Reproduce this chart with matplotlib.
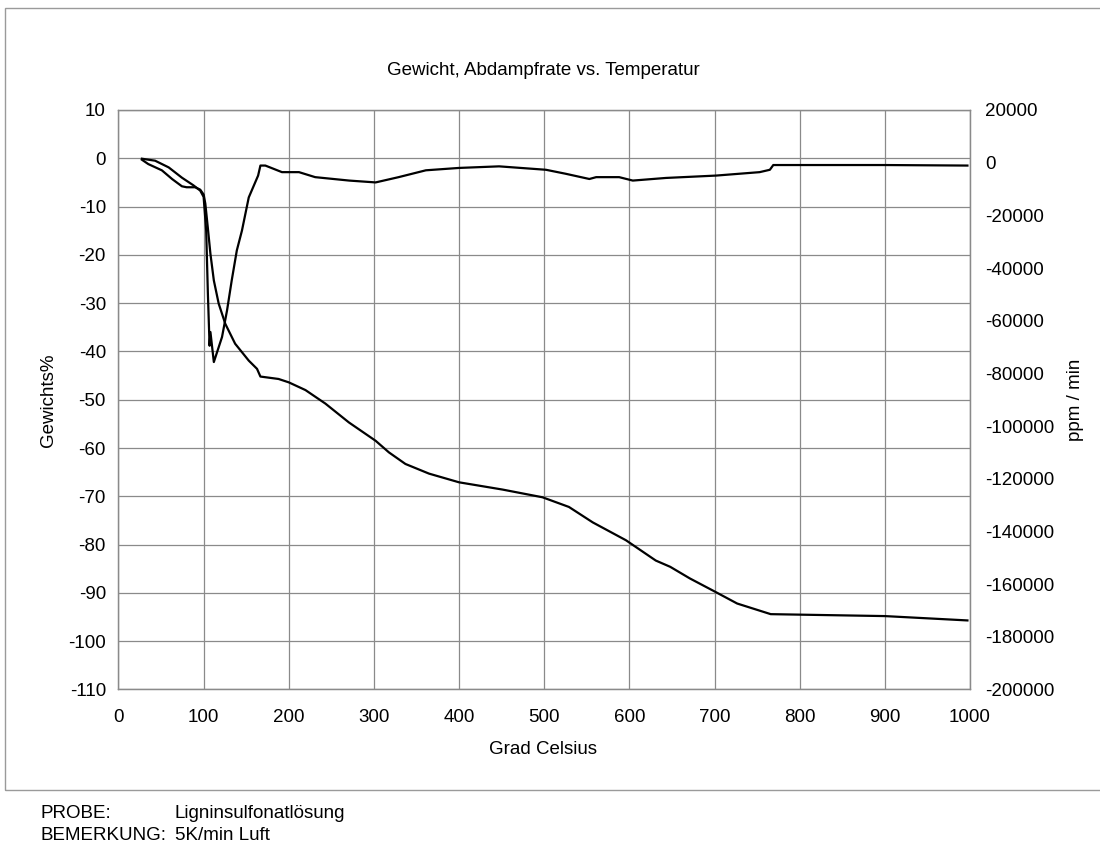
import matplotlib
matplotlib.use("Agg")
import matplotlib.pyplot as plt
from matplotlib.patches import Rectangle

plt.rcParams['font.family'] = ['Liberation Sans', 'DejaVu Sans']
plt.rcParams['axes.unicode_minus'] = False

# Gewichtskurve (linke Achse, %)
temp_weight = [27.5, 35, 51, 63, 74.5, 80, 90, 96, 100, 102, 105, 108, 112, 117.7,
               125.5, 137, 153, 162.7, 166.7, 188, 200, 219.6, 243, 270.6, 302,
               317.6, 337, 364.7, 400, 451, 498, 529, 557, 596, 631, 648, 671,
               699, 726.6, 766, 900, 997]
weight = [-0.3, -1.2, -2.5, -4.3, -5.8, -6.0, -6.0, -6.5, -7.5, -9.4, -14.5, -19.8,
          -25.3, -30.1, -34.3, -38.4, -41.9, -43.6, -45.2, -45.7, -46.4, -48.0,
          -50.8, -54.7, -58.5, -60.9, -63.3, -65.3, -67.1, -68.6, -70.2, -72.2,
          -75.4, -79.1, -83.3, -84.6, -87.0, -89.6, -92.2, -94.4, -94.8, -95.7]

# Abdampfrate (rechte Achse, ppm/min)
temp_rate = [27.5, 43, 59, 74.5, 88, 96, 100, 103, 105, 107, 108, 112, 121.6, 127.5,
             133, 139, 145, 153, 164, 166.7, 172.5, 192, 212, 231, 271, 302, 329,
             361, 400, 447, 502, 525, 553, 561, 588, 604, 643, 702, 753, 765, 769,
             800, 900, 997]
rate = [1500, 750, -1800, -5700, -8600, -10600, -13000, -25800, -49700, -69500,
        -64300, -75700, -66200, -56100, -44700, -33300, -25800, -13200, -4900,
        -1100, -1100, -3600, -3600, -5500, -6800, -7500, -5500, -2900, -2000,
        -1400, -2700, -4200, -6200, -5500, -5500, -6800, -5800, -4900, -3600,
        -2700, -900, -900, -900, -1100]

FS = 13.5
GRID = '#8a8a8a'

fig = plt.figure(figsize=(11, 8.46), dpi=100)
ax = fig.add_axes([0.1077, 0.185, 0.7741, 0.685])
ax2 = ax.twinx()

ax.plot(temp_weight, weight, color='black', lw=1.6)
ax2.plot(temp_rate, rate, color='black', lw=1.6)

ax.set_xlim(0, 1000)
ax.set_ylim(-110, 10)
ax2.set_ylim(-200000, 20000)
ax.set_xticks(range(0, 1001, 100))
ax.set_yticks(range(-110, 11, 10))
ax2.set_yticks(range(-200000, 20001, 20000))

ax.grid(True, color=GRID, lw=0.9)
for a in (ax, ax2):
    for s in a.spines.values():
        s.set_color(GRID)
        s.set_linewidth(0.9)
ax.tick_params(axis='x', length=0, pad=14, labelsize=FS)
ax.tick_params(axis='y', length=0, pad=9, labelsize=FS)
ax2.tick_params(axis='y', length=0, pad=11, labelsize=FS)

fig.text(0.494, 0.917, 'Gewicht, Abdampfrate vs. Temperatur', ha='center', va='center', fontsize=FS)
fig.text(0.494, 1 - 750 / 846, 'Grad Celsius', ha='center', va='center', fontsize=FS)
fig.text(48 / 1100, 1 - 400 / 846, 'Gewichts%', ha='center', va='center', rotation=90, fontsize=FS)
fig.text(1075 / 1100, 1 - 400 / 846, 'ppm / min', ha='center', va='center', rotation=90, fontsize=FS)

fig.text(40 / 1100, 1 - 813 / 846, 'PROBE:', ha='left', va='center', fontsize=FS)
fig.text(175 / 1100, 1 - 813 / 846, 'Ligninsulfonatlösung', ha='left', va='center', fontsize=FS)
fig.text(40 / 1100, 1 - 835 / 846, 'BEMERKUNG:', ha='left', va='center', fontsize=FS)
fig.text(175 / 1100, 1 - 835 / 846, '5K/min Luft', ha='left', va='center', fontsize=FS)

fig.patches.append(Rectangle((5 / 1100, 1 - 790 / 846), 1.1, (790 - 8) / 846,
                             transform=fig.transFigure, fill=False,
                             edgecolor='#9a9a9a', lw=1.0))

fig.savefig('out.png', dpi=100)
